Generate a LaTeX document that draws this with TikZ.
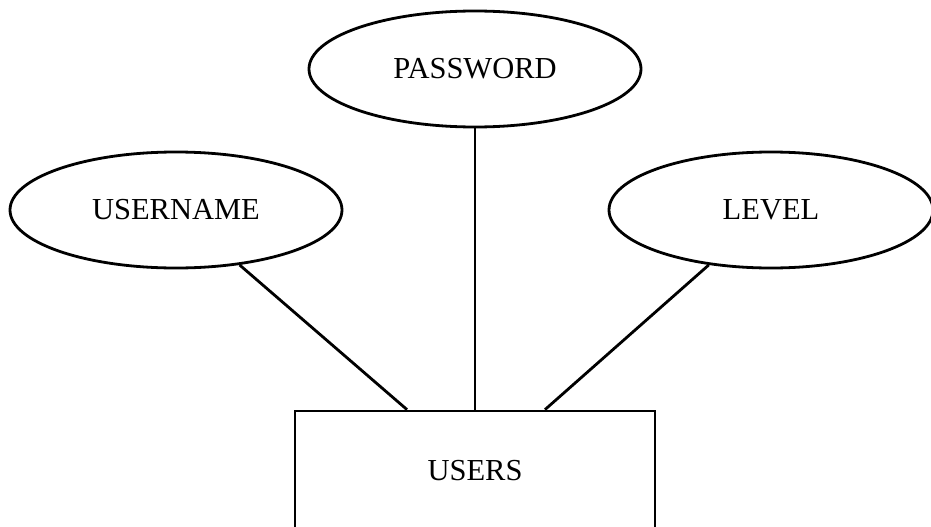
\documentclass[tikz,border=0pt]{standalone}
\usepackage{fontspec}
\setmainfont{Liberation Serif}
\usetikzlibrary{shapes.geometric,calc}
\begin{document}
\begin{tikzpicture}[x=1pt,y=-1pt,
  attr/.style={draw,ellipse,line width=2.8pt,inner sep=0pt,minimum width=332pt,minimum height=116pt,font=\fontsize{30.5}{36}\selectfont},
  entity/.style={draw,rectangle,line width=2.8pt,inner sep=0pt,minimum width=360pt,minimum height=119pt,font=\fontsize{30.5}{36}\selectfont},
  link/.style={line width=2.8pt}]
\useasboundingbox (0,0) rectangle (931,527);
\clip (0,0) rectangle (931,527);
\node[attr] (password) at (475,69) {PASSWORD};
\node[attr] (username) at (176,210) {USERNAME};
\node[attr,minimum width=324pt] (level) at (771,210) {LEVEL};
\node[entity] (users) at (475,470.5) {USERS};
\coordinate (u1) at ($(users.north)+(-68,0)$);
\coordinate (u3) at ($(users.north)+(70,0)$);
\draw[link] (username) -- (u1);
\draw[link] (password) -- (users.north);
\draw[link] (level) -- (u3);
\end{tikzpicture}
\end{document}
